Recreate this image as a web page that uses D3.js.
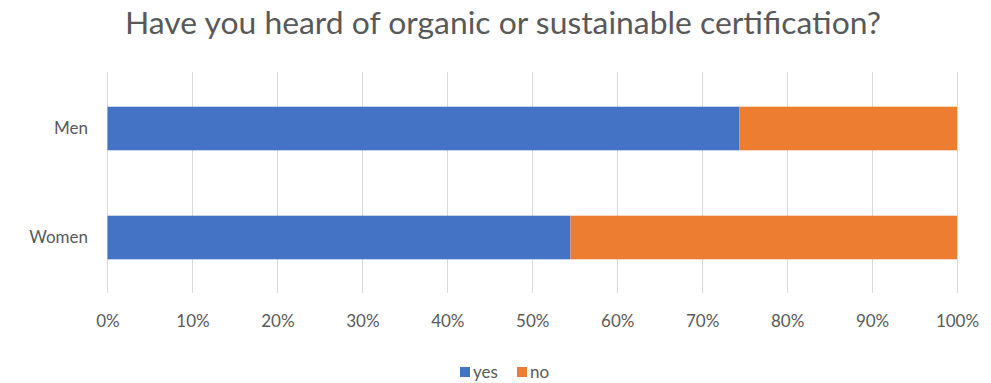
<!DOCTYPE html>
<html><head><meta charset="utf-8">
<script src="https://cdn.jsdelivr.net/npm/d3@7"></script>
<style>body{margin:0;background:#fff}svg{display:block}text{font-family:Lato,"Open Sans",sans-serif}</style>
</head><body><div id="chart"></div>
<script>
const categories = ["Men", "Women"];
const yesValues = [0.744, 0.545];
const noValues = [0.256, 0.455];
const seriesNames = ["yes", "no"];
const tickValues = [0,0.1,0.2,0.3,0.4,0.5,0.6,0.7,0.8,0.9,1];
const title = "Have you heard of organic or sustainable certification?";
const colors = ["#4472C4", "#ED7D31"];

const W = 991, H = 383;
const svg = d3.select("#chart").append("svg").attr("width", W).attr("height", H);

const x = d3.scaleLinear().domain([0,1]).range([107.5, 957]);
const y = d3.scaleBand().domain(categories).range([74, 292]).paddingInner(0.6).paddingOuter(0.3);

svg.append("text").attr("x", 125).attr("y", 34)
  .attr("font-size", 30).attr("fill","#595959")
  .attr("textLength", 756).attr("lengthAdjust","spacingAndGlyphs").text(title);

// gridlines
svg.append("g").selectAll("line").data(tickValues).join("line")
  .attr("x1", d=>x(d)).attr("x2", d=>x(d)).attr("y1", 72).attr("y2", 293)
  .attr("stroke", "#d9d9d9").attr("stroke-width", 1).attr("shape-rendering","crispEdges");

const rows = categories.map((c,i)=>({cat:c, yes:yesValues[i], no:noValues[i]}));
const stack = d3.stack().keys(seriesNames)(rows);
svg.append("g").selectAll("g").data(stack).join("g").attr("fill", (d,i)=>colors[i])
  .selectAll("rect").data(d=>d).join("rect")
  .attr("x", d=>x(d[0])).attr("width", d=>x(d[1])-x(d[0]))
  .attr("y", d=>y(d.data.cat)).attr("height", y.bandwidth());

// x axis labels
const xAxis = d3.axisBottom(x).tickValues(tickValues).tickFormat(d3.format(".0%")).tickSize(0);
const gx = svg.append("g").attr("transform","translate(0,312)").call(xAxis);
gx.select(".domain").remove();
gx.selectAll("text").attr("font-size",17).attr("fill","#595959").attr("font-family","Lato,sans-serif");

// y axis labels
const yAxis = d3.axisLeft(y).tickSize(0).tickPadding(0);
const gy = svg.append("g").attr("transform","translate(88,0)").call(yAxis);
gy.select(".domain").remove();
gy.selectAll("text").attr("font-size",17).attr("fill","#595959").attr("font-family","Lato,sans-serif");

// legend
const legend = svg.append("g");
const lx = [460, 517];
seriesNames.forEach((s,i)=>{
  legend.append("rect").attr("x", lx[i]).attr("y", 367).attr("width", 10).attr("height", 10).attr("fill", colors[i]);
  legend.append("text").attr("x", lx[i]+13).attr("y", 378).attr("font-size",17).attr("fill","#595959").text(s);
});
</script></body></html>
